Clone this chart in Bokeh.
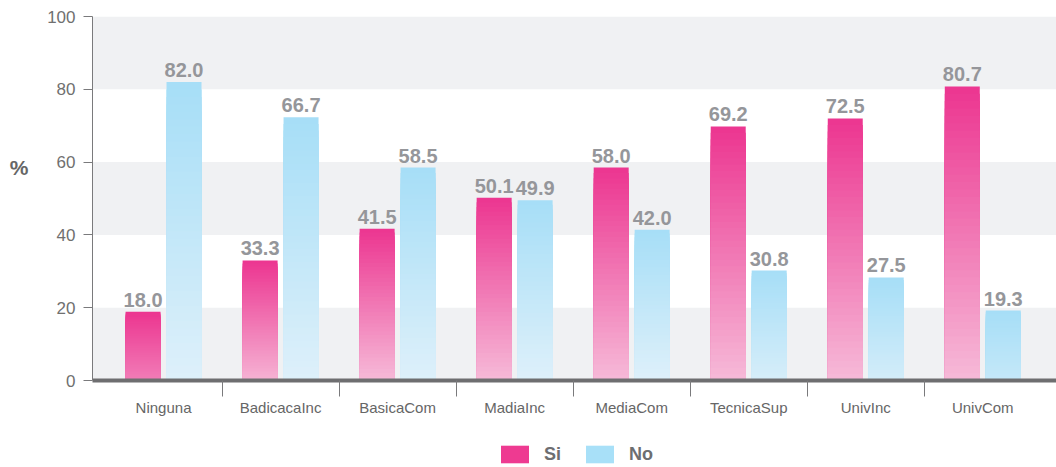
import numpy as np
from bokeh.plotting import figure
from bokeh.layouts import column
from bokeh.models import (ColumnDataSource, FixedTicker, Legend, LegendItem,
                          BoxAnnotation, Range1d, LinearAxis)
from bokeh.core.properties import value
from bokeh.embed import file_html
from bokeh.resources import INLINE

# ---- data ----
categories = ["Ninguna", "BadicacaInc", "BasicaCom", "MadiaInc",
              "MediaCom", "TecnicaSup", "UnivInc", "UnivCom"]
si_labels = [18.0, 33.3, 41.5, 50.1, 58.0, 69.2, 72.5, 80.7]
no_labels = [82.0, 66.7, 58.5, 49.9, 42.0, 30.8, 27.5, 19.3]
# bar heights as drawn in the picture
si_heights = [18.9, 33.0, 41.7, 50.2, 58.5, 69.8, 72.0, 80.8]
no_heights = [82.0, 72.3, 58.5, 49.5, 41.4, 30.2, 28.3, 19.2]
y_ticks = [0, 20, 40, 60, 80, 100]
series = ["Si", "No"]
y_unit_label = "%"
y_unit_pos = 58.5

FONT = "Liberation Sans"
SI_TOP, SI_LIGHT = (236, 53, 144), (246, 186, 216)
NO_TOP, NO_LIGHT = (166, 222, 247), (222, 240, 250)

p = figure(width=1056, height=427, output_backend="svg", toolbar_location=None,
           x_range=Range1d(-0.607, 7.63), y_range=Range1d(0, 100),
           min_border_left=92, min_border_right=0, min_border_top=16,
           min_border_bottom=47)
p.outline_line_color = None
p.xgrid.visible = False
p.ygrid.visible = False

# alternating bands
for i in range(0, len(y_ticks) - 1, 2):
    p.add_layout(BoxAnnotation(bottom=y_ticks[i], top=y_ticks[i + 1],
                               fill_color="#F0F1F3", fill_alpha=1.0,
                               line_color=None, level="underlay"))

def mix(a, b, t):
    return "#%02x%02x%02x" % tuple(int(round(a[k] + (b[k] - a[k]) * t)) for k in range(3))

N = 40
width = 0.299
offsets = {"Si": -0.175, "No": 0.175}

def gradient_bars(heights, off, top_col, light_col):
    left, right, bottom, top, colors = [], [], [], [], []
    for i, h in enumerate(heights):
        tb = min(1.0, h / 35.0)
        for k in range(N - 1, -1, -1):
            f = (k + 0.5) / N
            left.append(i + off - width / 2)
            right.append(i + off + width / 2)
            bottom.append(0)
            top.append(h * (k + 1) / N)
            colors.append(mix(top_col, light_col, tb * (1 - f)))
    src = ColumnDataSource(dict(left=left, right=right, bottom=bottom, top=top, c=colors))
    p.quad(left="left", right="right", bottom="bottom", top="top", fill_color="c",
           line_color=None, source=src)

gradient_bars(si_heights, offsets["Si"], SI_TOP, SI_LIGHT)
gradient_bars(no_heights, offsets["No"], NO_TOP, NO_LIGHT)

# value labels
for heights, labels, s in [(si_heights, si_labels, "Si"), (no_heights, no_labels, "No")]:
    src = ColumnDataSource(dict(x=[i + offsets[s] for i in range(len(categories))],
                                y=heights, t=["%.1f" % v for v in labels]))
    p.text(x="x", y="y", text="t", source=src, text_align="center",
           text_baseline="bottom", y_offset=-5, text_font=value(FONT),
           text_font_style="bold", text_font_size="20px", text_color="#95969A")

# x axis
xa = p.xaxis[0]
xa.ticker = FixedTicker(ticks=list(range(len(categories))),
                        minor_ticks=[i + 0.5 for i in range(len(categories) - 1)])
xa.major_label_overrides = {i: c for i, c in enumerate(categories)}
xa.major_tick_out = 0
xa.major_tick_in = 0
xa.minor_tick_out = 16
xa.minor_tick_in = 0
xa.minor_tick_line_color = "#7A7A7C"
xa.minor_tick_line_width = 1
xa.axis_line_width = 4
xa.axis_line_color = "#6E6E70"
xa.major_label_standoff = 2
xa.major_label_text_font = FONT
xa.major_label_text_font_size = "15px"
xa.major_label_text_color = "#666666"

# y axis
ya = p.yaxis[0]
ya.ticker = FixedTicker(ticks=y_ticks)
ya.major_tick_out = 9
ya.major_tick_in = 0
ya.minor_tick_line_color = None
ya.axis_line_color = "#7A7A7C"
ya.major_tick_line_color = "#7A7A7C"
ya.major_label_standoff = 8
ya.major_label_text_font = FONT
ya.major_label_text_font_size = "17px"
ya.major_label_text_color = "#707070"

# unit label "%" as an extra axis on the left
ua = LinearAxis(ticker=FixedTicker(ticks=[y_unit_pos]),
                major_label_overrides={y_unit_pos: y_unit_label},
                axis_line_color=None, major_tick_line_color=None,
                minor_tick_line_color=None, major_tick_out=0, major_tick_in=0,
                major_label_standoff=16, major_label_text_font=FONT,
                major_label_text_font_style="bold", major_label_text_font_size="21px",
                major_label_text_color="#666666")
p.add_layout(ua, "left")

# ---- legend figure below ----
lf = figure(width=1056, height=40, output_backend="svg", toolbar_location=None,
            x_range=Range1d(0, 1), y_range=Range1d(0, 1),
            min_border_left=0, min_border_right=0, min_border_top=0, min_border_bottom=0)
lf.outline_line_color = None
lf.axis.visible = False
lf.grid.visible = False
# legend proxies kept outside the visible range
r_si = lf.quad(left=[2], right=[3], bottom=[2], top=[3], fill_color="#EE3A91", line_color=None)
r_no = lf.quad(left=[2], right=[3], bottom=[2], top=[3], fill_color="#A8E0F8", line_color=None)
legend = Legend(items=[LegendItem(label=series[0], renderers=[r_si]),
                       LegendItem(label=series[1], renderers=[r_no])],
                orientation="horizontal", location=(405, 2),
                glyph_width=35, glyph_height=22, label_standoff=12, spacing=18,
                padding=0, margin=0, border_line_color=None, background_fill_alpha=0,
                label_text_font=FONT, label_text_font_style="bold",
                label_text_font_size="18px", label_text_color="#6D6E71",
                label_height=22)
lf.add_layout(legend, "center")

open("out.html", "w").write(file_html(column(p, lf, spacing=0), INLINE))
